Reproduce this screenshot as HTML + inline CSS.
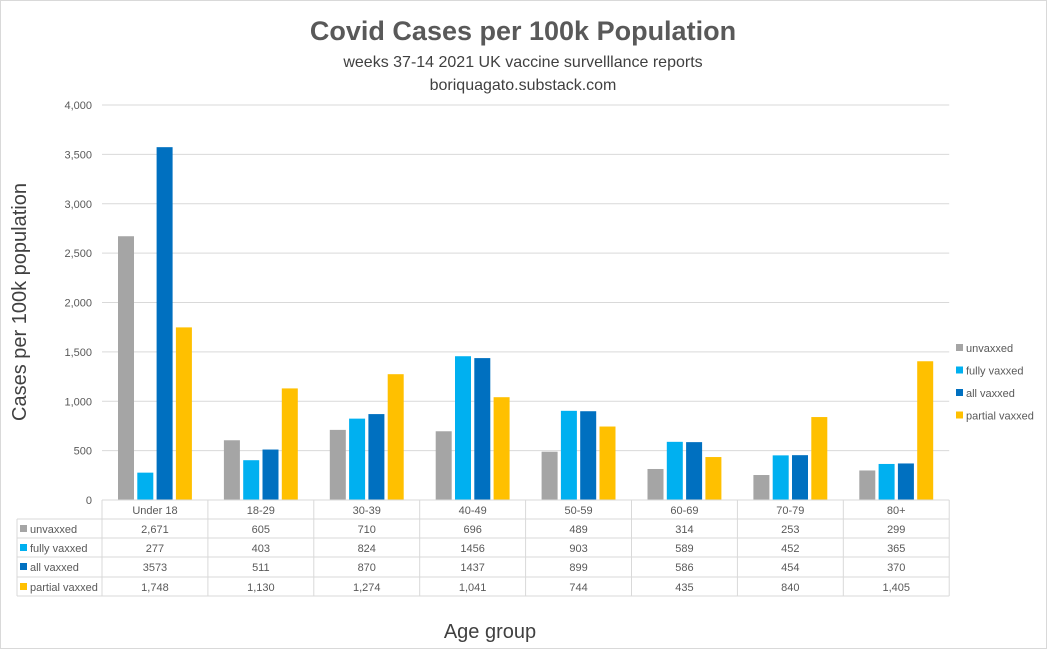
<!DOCTYPE html>
<html><head><meta charset="utf-8"><style>
body{margin:0;background:#fff;}
svg text{font-family:"Liberation Sans",sans-serif;}
</style></head><body>
<svg width="1047" height="649" xmlns="http://www.w3.org/2000/svg">
<rect x="0.5" y="0.5" width="1046" height="648" fill="#fff" stroke="#d9d9d9"/>
<text x="523" y="40" text-anchor="middle" font-size="27" font-weight="bold" fill="#595959">Covid Cases per 100k Population</text>
<text x="523" y="67" text-anchor="middle" font-size="16" fill="#404040">weeks 37-14 2021 UK vaccine survelllance reports</text>
<text x="523" y="90" text-anchor="middle" font-size="16" fill="#404040">boriquagato.substack.com</text>
<text transform="translate(26,302) rotate(-90)" text-anchor="middle" font-size="20" fill="#404040">Cases per 100k population</text>
<text x="490" y="638" text-anchor="middle" font-size="20" fill="#404040">Age group</text>
<g id="grid"></g><g id="bars"></g><g id="table"></g><g id="legend"></g>
</svg>
<script>
const categories=["Under 18","18-29","30-39","40-49","50-59","60-69","70-79","80+"];
const seriesNames=["unvaxxed","fully vaxxed","all vaxxed","partial vaxxed"];
const unvaxxed=[2671,605,710,696,489,314,253,299];
const fullyVaxxed=[277,403,824,1456,903,589,452,365];
const allVaxxed=[3573,511,870,1437,899,586,454,370];
const partialVaxxed=[1748,1130,1274,1041,744,435,840,1405];
const tableLabels=[
["2,671","605","710","696","489","314","253","299"],
["277","403","824","1456","903","589","452","365"],
["3573","511","870","1437","899","586","454","370"],
["1,748","1,130","1,274","1,041","744","435","840","1,405"]];
const yTicks=[0,500,1000,1500,2000,2500,3000,3500,4000];
const yTickLabels=["0","500","1,000","1,500","2,000","2,500","3,000","3,500","4,000"];

const colors=["#A5A5A5","#00B0F0","#0070C0","#FFC000"];
const series=[unvaxxed,fullyVaxxed,allVaxxed,partialVaxxed];
const NS="http://www.w3.org/2000/svg";
const x0=102,gw=105.9,y0=500,yMax=4000,yTop=105;
const y=v=>y0-(v/yMax)*(y0-yTop);
function mk(tag,attrs,parent,txt){const e=document.createElementNS(NS,tag);for(const k in attrs)e.setAttribute(k,attrs[k]);if(txt!==undefined)e.textContent=txt;parent.appendChild(e);return e;}
const grid=document.getElementById('grid'),bars=document.getElementById('bars'),table=document.getElementById('table'),legend=document.getElementById('legend');
yTicks.forEach((t,i)=>{
  if(t>0){const l=mk('line',{x1:x0,x2:x0+gw*8,y1:y(t),y2:y(t),stroke:'#d9d9d9'},grid);
  
  }
  const tx=mk('text',{x:92,y:y(t)+4,'text-anchor':'end','font-size':11,fill:'#595959'},grid,yTickLabels[i]);
  
  
});
categories.forEach((c,ci)=>{
  series.forEach((s,si)=>{
    const bx=x0+gw*ci+16+si*19.3;
    const r=mk('rect',{x:bx,y:y(s[ci]),width:16,height:y0-y(s[ci]),fill:colors[si]},bars);
    
    
  });
});
const rowY=[500,519,538,557,577,596];
const tl=17;
for(let i=0;i<=8;i++){const l=mk('line',{x1:x0+gw*i,x2:x0+gw*i,y1:500,y2:596,stroke:'#d9d9d9'},table);

}
mk('line',{x1:tl,x2:tl,y1:519,y2:596,stroke:'#d9d9d9'},table);
for(let r=0;r<rowY.length;r++){const l=mk('line',{x1:r==0?x0:tl,x2:x0+gw*8,y1:rowY[r],y2:rowY[r],stroke:'#d9d9d9'},table);

}
categories.forEach((c,ci)=>{const t=mk('text',{x:x0+gw*ci+gw/2,y:514,'text-anchor':'middle','font-size':11,fill:'#595959'},table,c);

});
seriesNames.forEach((n,si)=>{
  const ry=rowY[si+1];
  mk('rect',{x:20,y:ry+6,width:7,height:7,fill:colors[si]},table);
  const t=mk('text',{x:30,y:ry+14,'font-size':11,fill:'#595959'},table,n);
  
  
  tableLabels[si].forEach((v,ci)=>{const tv=mk('text',{x:x0+gw*ci+gw/2,y:ry+14,'text-anchor':'middle','font-size':11,fill:'#595959'},table,v);
  
  });
  const ly=349+si*22.5;
  mk('rect',{x:956,y:ly-5,width:7,height:7,fill:colors[si]},legend);
  const lt=mk('text',{x:966,y:ly+3,'font-size':11,fill:'#595959'},legend,n);
  
  
});
</script>
</body></html>
